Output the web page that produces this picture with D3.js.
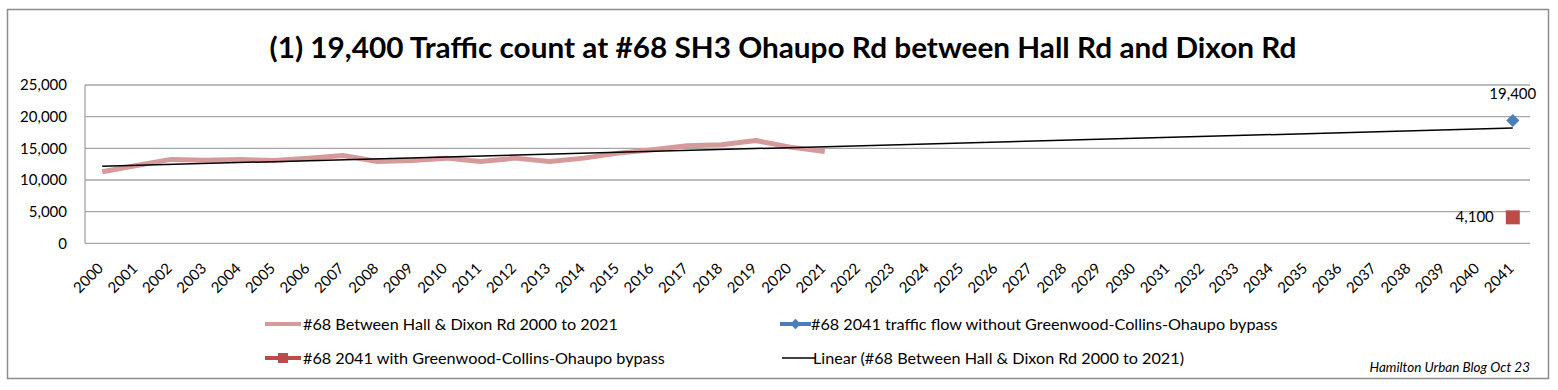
<!DOCTYPE html>
<html><head><meta charset="utf-8">
<script src="https://cdn.jsdelivr.net/npm/d3@7/dist/d3.min.js"></script>
<style>
body{margin:0;background:#fff}
svg text{font-family:Lato,"Open Sans","Noto Sans",sans-serif;fill:#000}
</style></head>
<body><svg id="c" width="1558" height="390"></svg>
<script>
const years = ["2000","2001","2002","2003","2004","2005","2006","2007","2008","2009","2010",
  "2011","2012","2013","2014","2015","2016","2017","2018","2019","2020","2021","2022","2023",
  "2024","2025","2026","2027","2028","2029","2030","2031","2032","2033","2034","2035","2036",
  "2037","2038","2039","2040","2041"];
const histYears = years.slice(0, 22);
const histValues = [11300,12280,13250,13130,13230,13070,13450,13860,12910,13070,13450,
  12910,13450,12910,13450,14240,14760,15400,15550,16230,15190,14490];
const withoutBypassYear = "2041", withoutBypassValue = 19400;
const withBypassYear = "2041", withBypassValue = 4100;
const yTicks = [0,5000,10000,15000,20000,25000];
const title = "(1) 19,400 Traffic count at #68 SH3 Ohaupo Rd between Hall Rd and Dixon Rd";
const legendLabels = ["#68 Between Hall & Dixon Rd 2000 to 2021",
  "#68 2041 traffic flow without Greenwood-Collins-Ohaupo bypass",
  "#68 2041 with Greenwood-Collins-Ohaupo bypass",
  "Linear (#68 Between Hall & Dixon Rd 2000 to 2021)"];
const credit = "Hamilton Urban Blog Oct 23";

const svg = d3.select("#c");
const C = {pink:"#d69a9a", blue:"#4a7ebb", red:"#be4b48", grid:"#a6a6a6"};

// outer frame
svg.append("rect").attr("x",7.5).attr("y",9.5).attr("width",1541).attr("height",369)
  .attr("fill","none").attr("stroke","#8c8c8c").attr("stroke-width",1.5);

svg.append("text").attr("x",783).attr("y",58).attr("text-anchor","middle")
  .attr("font-size",28).attr("font-weight","bold")
  .attr("textLength",1027).attr("lengthAdjust","spacingAndGlyphs").text(title);

const L = 85, R = 1530, T = 85, B = 243.3;
const x = d3.scaleBand().domain(years).range([L, R]);
const xc = d => x(d) + x.bandwidth()/2;
const y = d3.scaleLinear().domain([0,25000]).range([B, T]);

// gridlines
svg.append("g").selectAll("line").data(yTicks).join("line")
  .attr("x1",L).attr("x2",R).attr("y1",d=>y(d)).attr("y2",d=>y(d))
  .attr("stroke",C.grid).attr("stroke-width",1.3);
svg.append("line").attr("x1",L).attr("x2",L).attr("y1",T).attr("y2",B)
  .attr("stroke",C.grid).attr("stroke-width",1.3);

// y axis
const ya = svg.append("g").attr("transform",`translate(${L},0)`)
  .call(d3.axisLeft(y).tickValues(yTicks).tickSize(0).tickPadding(18).tickFormat(d3.format(",")));
ya.select(".domain").remove();
ya.selectAll("text").attr("font-size",15).style("font-family","Lato,'Open Sans',sans-serif");

// x axis
const xa = svg.append("g").attr("transform",`translate(0,${B})`)
  .call(d3.axisBottom(x).tickSize(0).tickPadding(0));
xa.select(".domain").remove();
xa.selectAll("text").attr("font-size",15).style("font-family","Lato,'Open Sans',sans-serif")
  .attr("text-anchor","end").attr("dy",null).attr("y",null)
  .attr("transform","translate(2,26) rotate(-45)");

// historic line
const hist = histYears.map((d,i)=>({year:d, v:histValues[i]}));
svg.append("path").datum(hist)
  .attr("d", d3.line().x(d=>xc(d.year)).y(d=>y(d.v)))
  .attr("fill","none").attr("stroke",C.pink).attr("stroke-width",5).attr("stroke-linejoin","round");

// linear trendline (least squares on historic series, extended to 2041)
const mx = d3.mean(histValues,(d,i)=>i), my = d3.mean(histValues);
const slope = d3.sum(histValues,(d,i)=>(i-mx)*(d-my)) / d3.sum(histValues,(d,i)=>(i-mx)*(i-mx));
const icpt = my - slope*mx;
const lastI = years.length-1;
svg.append("line")
  .attr("x1",xc(years[0])).attr("y1",y(icpt))
  .attr("x2",xc(years[lastI])).attr("y2",y(icpt+slope*lastI))
  .attr("stroke","#000").attr("stroke-width",1.5);

// points
const dsym = d3.symbolDiamond2 ? d3.symbolDiamond2 : d3.symbolDiamond;
const dx = xc(withoutBypassYear), dy = y(withoutBypassValue);
svg.append("path").attr("d",d3.symbol(dsym, 110)())
  .attr("transform",`translate(${dx},${dy})`).attr("fill",C.blue);
svg.append("text").attr("x",dx).attr("y",dy-21).attr("text-anchor","middle").attr("font-size",15)
  .text(d3.format(",")(withoutBypassValue));
const sx = xc(withBypassYear), sy = y(withBypassValue);
svg.append("rect").attr("x",sx-7).attr("y",sy-7).attr("width",14).attr("height",14).attr("fill",C.red);
svg.append("text").attr("x",sx-19).attr("y",sy+5).attr("text-anchor","end").attr("font-size",15)
  .text(d3.format(",")(withBypassValue));

// legend
const lg = svg.append("g").attr("font-size",16.2);
function legendItem(x0, yc, label, kind){
  const g = lg.append("g");
  if(kind==="pink"){
    g.append("line").attr("x1",x0).attr("x2",x0+36).attr("y1",yc).attr("y2",yc).attr("stroke",C.pink).attr("stroke-width",4);
  } else if(kind==="blue"){
    g.append("line").attr("x1",x0).attr("x2",x0+31).attr("y1",yc).attr("y2",yc).attr("stroke",C.blue).attr("stroke-width",4);
    g.append("path").attr("d",d3.symbol(dsym,70)()).attr("transform",`translate(${x0+15.5},${yc})`).attr("fill",C.blue);
  } else if(kind==="red"){
    g.append("line").attr("x1",x0).attr("x2",x0+36).attr("y1",yc).attr("y2",yc).attr("stroke",C.red).attr("stroke-width",4);
    g.append("rect").attr("x",x0+13).attr("y",yc-5).attr("width",10).attr("height",10).attr("fill",C.red);
  } else {
    g.append("line").attr("x1",x0).attr("x2",x0+33).attr("y1",yc).attr("y2",yc).attr("stroke","#000").attr("stroke-width",1.5);
  }
  const tx = (kind==="pink"||kind==="red") ? x0+38 : x0+31;
  g.append("text").attr("x",tx).attr("y",yc+5.5).text(label);
}
legendItem(265, 324, legendLabels[0], "pink");
legendItem(780, 324, legendLabels[1], "blue");
legendItem(265, 358, legendLabels[2], "red");
legendItem(782, 358, legendLabels[3], "black");

svg.append("text").attr("x",1530).attr("y",372).attr("text-anchor","end")
  .attr("font-size",13.5).attr("font-style","italic").text(credit);
</script></body></html>
